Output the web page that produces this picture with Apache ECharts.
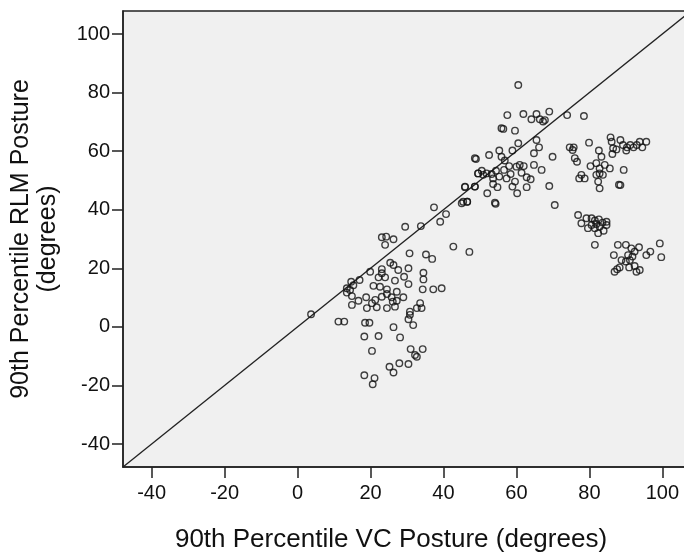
<!DOCTYPE html>
<html>
<head>
<meta charset="utf-8">
<script src="https://cdn.jsdelivr.net/npm/echarts@6/dist/echarts.min.js"></script>
<style>
html,body{margin:0;padding:0;background:#fff;}
#chart{width:684px;height:558px;}
</style>
</head>
<body>
<div id="chart"></div>
<script>
// Axis setup
const axisMin = -47.85;
const axisMax = 107.85;
const tickValues = [-40, -20, 0, 20, 40, 60, 80, 100];
const xTitle = '90th Percentile VC Posture (degrees)';
const yTitle = '90th Percentile RLM Posture\n(degrees)';

// Reference line y = x
const refLineX = [axisMin, axisMax];
const refLineY = [axisMin, axisMax];

// Scatter values: VC posture (x) and RLM posture (y)
const vcPosture = [
  29.5,33.8,39.1,23.1,24.3,26.3,24.0,42.7,47.1,30.7,35.2,36.9,25.4,26.3,23.1,27.6,30.4,19.9,34.5,34.5,
  22.2,24.0,17.0,14.7,26.7,29.2,30.4,13.5,14.4,20.8,24.5,34.3,37.2,39.5,14.9,16.7,18.8,21.3,23.1,24.5,
  25.8,27.2,29.0,14.9,20.4,21.7,24.5,26.7,30.8,32.7,34.0,30.8,30.4,31.7,11.2,12.8,18.5,19.7,26.3,3.7,
  18.3,22.2,28.1,20.4,31.0,34.3,32.2,32.7,25.2,27.9,30.4,26.3,18.3,21.1,20.6,13.5,15.3,23.1,27.2,26.1,
  22.6,19.0,33.6,
  48.6,49.5,45.9,48.6,45.0,46.5,37.4,40.7,
  60.5,57.5,61.9,65.5,69.0,64.1,66.4,67.3,67.8,73.9,78.5,55.9,56.4,59.6,60.5,65.5,66.2,64.8,58.9,55.3,
  52.5,48.9,69.9,56.8,
  49.5,50.9,51.8,53.2,54.4,55.3,56.6,57.3,58.4,59.6,60.9,62.0,61.4,62.8,63.9,64.8,66.9,53.6,54.8,52.0,
  45.9,48.6,60.2,62.8,45.4,46.5,54.1,54.3,69.0,70.5,50.5,53.6,55.9,58.9,60.0,58.0,
  74.6,75.7,75.4,79.9,76.0,76.6,80.3,82.6,83.3,81.9,84.2,85.6,82.8,77.8,78.7,77.2,81.9,82.8,83.7,82.4,
  82.8,89.4,88.5,88.1,85.8,86.1,88.5,86.5,87.4,86.3,89.2,90.3,91.2,92.1,93.0,93.8,94.5,95.6,90.1,
  76.9,77.8,79.6,79.2,80.6,81.5,82.6,83.6,84.7,83.9,82.4,81.5,80.6,82.8,81.9,84.7,81.5,
  87.8,90.0,86.7,91.5,93.6,92.4,90.6,88.8,90.0,91.1,88.3,86.9,87.6,90.9,92.4,92.9,93.8,95.6,96.7,99.3,
  99.7,91.8
];
const rlmPosture = [
  34.2,34.4,35.9,30.6,30.8,29.9,28.0,27.4,25.6,25.1,24.7,23.2,21.9,21.1,19.7,19.4,20.0,18.8,18.5,16.2,
  16.9,16.9,16.0,15.4,15.8,17.1,14.6,13.2,12.6,14.0,12.8,12.8,12.8,13.2,10.5,8.9,10.1,9.2,10.3,11.2,
  10.1,8.9,10.1,7.5,8.1,6.7,6.4,6.9,5.2,6.4,6.4,4.1,2.6,0.6,1.8,1.8,1.4,1.4,-0.1,4.3,
  -3.3,-3.1,-3.6,-8.2,-7.6,-7.6,-9.6,-10.2,-13.6,-12.4,-12.7,-15.6,-16.5,-17.5,-19.6,11.7,14.2,18.3,12.0,8.6,
  13.7,6.4,8.1,
  57.6,52.4,47.7,47.9,42.2,42.7,40.8,38.5,
  82.6,72.3,72.7,72.7,73.5,70.9,70.9,70.1,70.6,72.3,72.0,67.8,67.6,67.0,62.7,63.8,61.3,59.3,60.2,60.2,
  58.7,57.3,58.1,56.8,
  52.4,51.9,52.4,52.2,53.3,51.3,53.6,50.7,52.2,49.6,55.3,54.9,52.6,51.1,50.4,55.3,53.6,48.8,47.7,45.6,
  47.9,47.9,45.6,47.7,42.7,42.7,42.4,42.0,48.1,41.6,53.3,50.7,58.1,47.9,54.7,54.9,
  61.3,61.3,60.4,62.9,57.6,56.4,54.9,60.2,58.1,55.9,55.3,54.1,54.1,51.9,50.7,50.7,51.9,52.4,51.9,49.6,
  47.3,53.6,48.4,48.5,64.7,63.2,63.8,61.0,60.6,59.0,62.1,61.3,62.1,61.3,62.1,63.2,61.3,63.2,60.2,
  38.2,35.4,33.7,37.1,37.1,36.3,36.7,35.6,34.8,32.8,32.0,33.7,34.8,34.2,35.1,35.9,28.0,
  28.0,28.0,24.5,26.8,27.2,25.7,24.5,22.8,22.3,22.8,20.3,18.8,19.7,20.3,20.8,18.8,19.4,24.5,25.7,28.5,
  23.8,24.0
];

const points = vcPosture.map((v, i) => [v, rlmPosture[i]]);
const refLine = refLineX.map((v, i) => [v, refLineY[i]]);

const labelFont = 'Arial, "Liberation Sans", sans-serif';

const chart = echarts.init(document.getElementById('chart'), null, {renderer: 'canvas'});
const axisCommon = {
  type: 'value',
  min: axisMin,
  max: axisMax,
  splitLine: {show: false},
  axisLine: {show: true, onZero: false, lineStyle: {color: '#222', width: 1.5}},
  axisTick: {show: true, inside: false, length: 11, customValues: tickValues, lineStyle: {color: '#222', width: 1.5}},
  axisLabel: {show: true, customValues: tickValues, color: '#111', fontSize: 20, fontFamily: labelFont, margin: 13, hideOverlap: false}
};
chart.setOption({
  animation: false,
  backgroundColor: '#ffffff',
  grid: {
    left: 123, top: 11, width: 568, height: 456,
    containLabel: false,
    outerBoundsMode: 'none',
    show: true, backgroundColor: '#f0f0f0', borderColor: '#222', borderWidth: 1.5
  },
  xAxis: Object.assign({}, axisCommon, {axisLabel: Object.assign({}, axisCommon.axisLabel, {margin: 16})}),
  yAxis: Object.assign({}, axisCommon),
  series: [
    {
      type: 'line',
      data: refLine,
      symbol: 'none',
      lineStyle: {color: '#222', width: 1.3},
      silent: true,
      z: 2
    },
    {
      type: 'scatter',
      data: points,
      symbol: 'circle',
      symbolSize: 6.5,
      itemStyle: {color: 'rgba(0,0,0,0)', borderColor: '#111', borderWidth: 1.4},
      z: 3
    }
  ],
  graphic: [
    {
      type: 'text',
      x: 391, y: 540,
      style: {text: xTitle, font: '26px ' + labelFont, fill: '#111', align: 'center', verticalAlign: 'middle'}
    },
    {
      type: 'text',
      x: 35, y: 239,
      rotation: Math.PI / 2,
      style: {text: yTitle, font: '25px ' + labelFont, fill: '#111', align: 'center', verticalAlign: 'middle', lineHeight: 27}
    }
  ]
});
</script>
</body>
</html>
